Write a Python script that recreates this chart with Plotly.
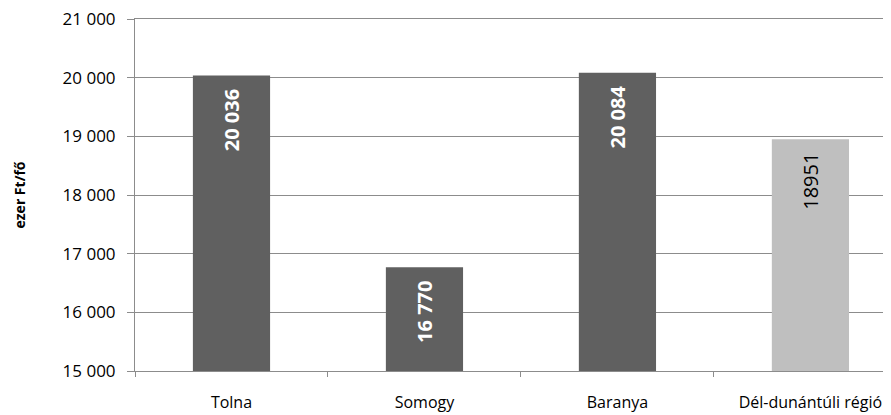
import plotly.graph_objects as go

categories = ["Tolna", "Somogy", "Baranya", "Dél-dunántúli régió"]
values = [20036, 16770, 20084, 18951]
bar_colors = ["#606060", "#606060", "#606060", "#bfbfbf"]
label_colors = ["white", "white", "white", "black"]
bold_labels = [True, True, True, False]
y_ticks = [15000, 16000, 17000, 18000, 19000, 20000, 21000]
y_tick_text = ["15 000", "16 000", "17 000", "18 000", "19 000", "20 000", "21 000"]
y_title = "ezer Ft/fő"

FONT = "Open Sans"
PAD = "\u00a0\u00a0"
GRID = "#8c8c8c"

def fmt(v, b):
    if b:
        s = f"{v:,}".replace(",", "\u00a0")
        return f"<b>{s}</b>{PAD}"
    return f"{v}{PAD}"

texts = [fmt(v, b) for v, b in zip(values, bold_labels)]

fig = go.Figure(go.Bar(
    x=categories, y=values,
    marker=dict(color=bar_colors, line=dict(width=0)),
    width=0.4,
    text=texts,
    textposition="inside",
    insidetextanchor="end",
    textangle=-90,
    textfont=dict(color=label_colors, size=20, family=FONT),
    cliponaxis=False,
))

fig.update_layout(
    width=891, height=415,
    margin=dict(l=127, r=0, t=11, b=52),
    plot_bgcolor="white", paper_bgcolor="white",
    showlegend=False,
    uniformtext=dict(mode=False),
    font=dict(family=FONT, size=16, color="#000000"),
)
fig.update_xaxes(
    range=[-0.5, 3.459],
    showline=True, mirror=True, linecolor=GRID, linewidth=1,
    ticks="outside", tickson="boundaries", ticklen=5, tickcolor=GRID,
    ticklabelstandoff=17,
    tickfont=dict(size=16, family=FONT, color="#000000"),
    showgrid=False,
)
fig.update_yaxes(
    range=[15000, 21000],
    tickvals=y_ticks, ticktext=y_tick_text,
    showline=True, linecolor=GRID, linewidth=1,
    ticks="outside", ticklen=7, tickcolor=GRID,
    showgrid=True, gridcolor=GRID, gridwidth=1,
    tickfont=dict(size=17, family=FONT, color="#000000"),
    ticklabelstandoff=8,
    ticklabeloverflow="allow",
    zeroline=False,
    title=dict(text=f"<b>{y_title}</b>", font=dict(size=14, family=FONT), standoff=33),
)

fig.write_html("out.html")
